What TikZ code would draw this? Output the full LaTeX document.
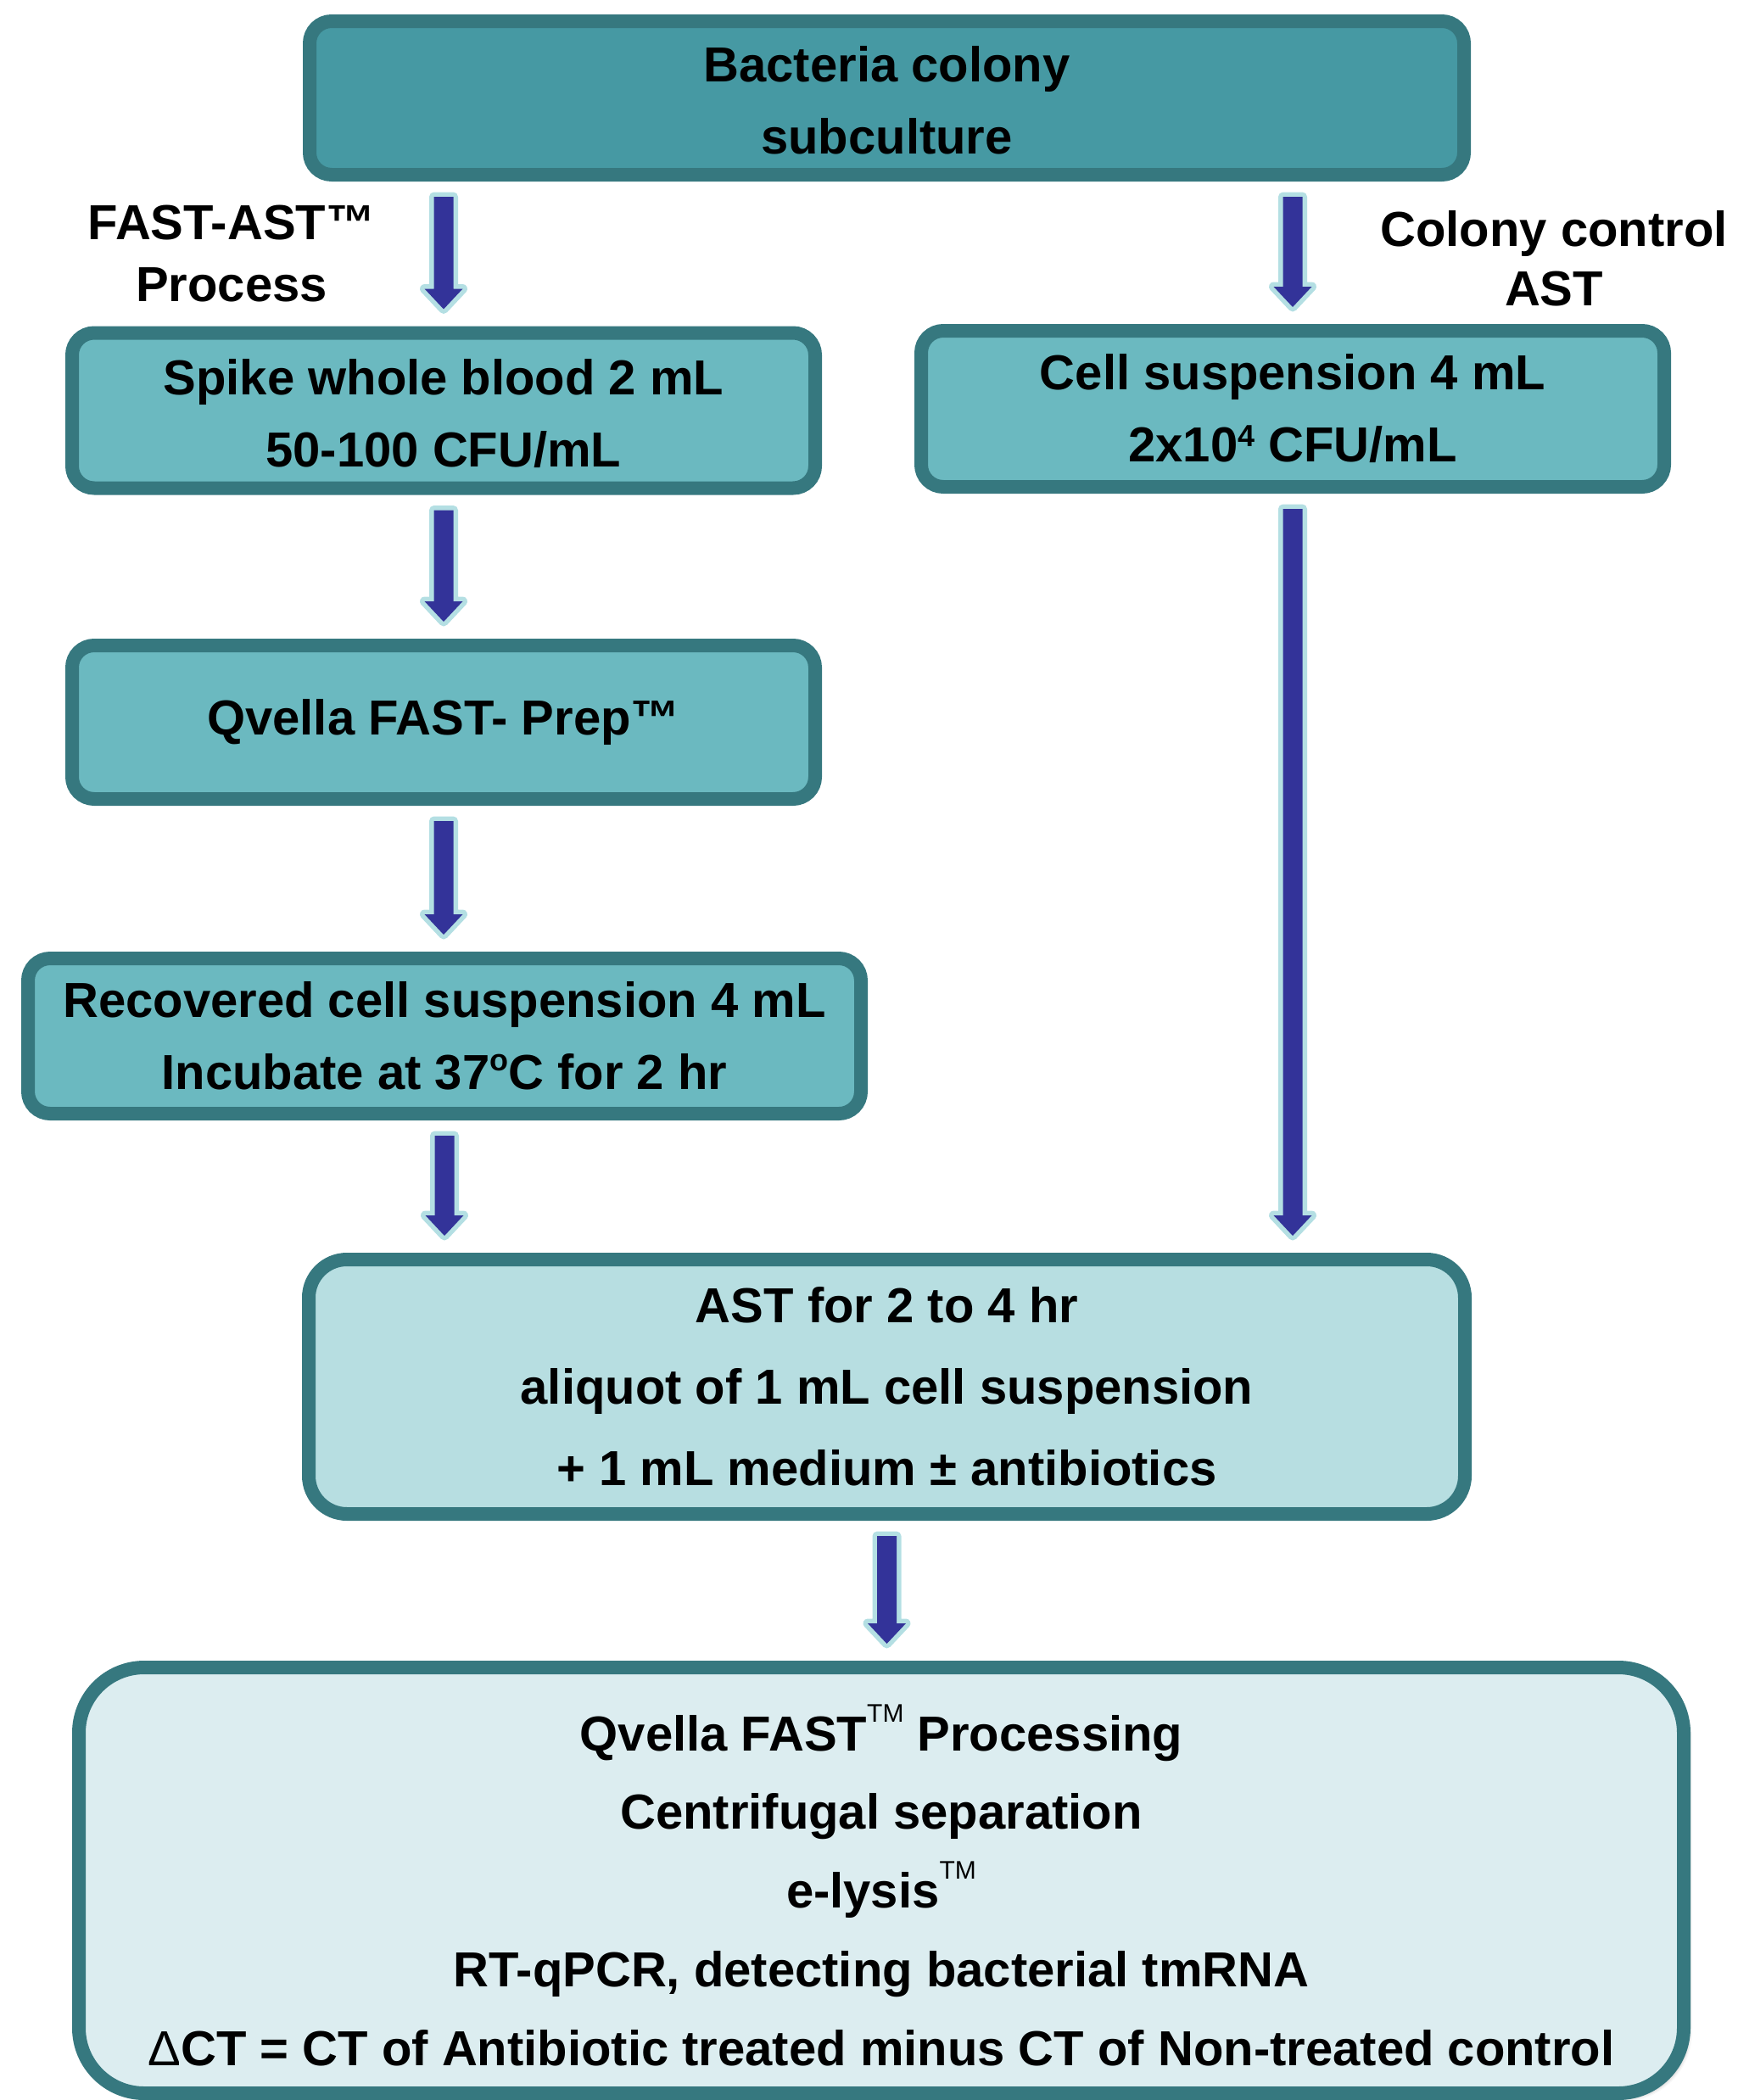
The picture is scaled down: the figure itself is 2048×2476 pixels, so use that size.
\documentclass[tikz,border=0pt]{standalone}
\usepackage{fontspec}
\setmainfont{Liberation Sans}
\usetikzlibrary{calc,shadows.blur}
\definecolor{edge}{HTML}{36787F}
\definecolor{fillA}{HTML}{4699A3}
\definecolor{fillB}{HTML}{6BB9C0}
\definecolor{fillC}{HTML}{B7DEE1}
\definecolor{fillD}{HTML}{DCEDF0}
\definecolor{arrowblue}{HTML}{333399}
\definecolor{arrowedge}{HTML}{B4DFE3}
\newcommand\mysup[2]{\raisebox{#1}{\fontsize{36}{36}\selectfont #2}}
\newcommand\mytm{\raisebox{34pt}{\fontsize{30}{30}\selectfont\mdseries TM}}
\tikzset{
  box/.style={draw=edge, line width=16pt, rounded corners=26pt, inner sep=0pt, outer sep=0pt,
    align=center, text=black, font=\bfseries\fontsize{58}{85}\selectfont},
  blockarrow/.style={draw=arrowedge, line width=11pt, line join=round, postaction={fill=arrowblue}},
  lbl/.style={align=center, inner sep=0pt, text=black},
}
\newcommand\barrow[3]{%
  \draw[blockarrow] let \p1=(#1.south), \p2=(#2.north), \p3=(#3.center) in
    (\x3-11.5pt,\y1-26pt) -- (\x3+11.5pt,\y1-26pt) -- (\x3+11.5pt,\y2+52pt) --
    (\x3+22.5pt,\y2+52pt) -- (\x3,\y2+28pt) -- (\x3-22.5pt,\y2+52pt) --
    (\x3-11.5pt,\y2+52pt) -- cycle;}
\begin{document}
\begin{tikzpicture}[x=1pt,y=1pt]
\useasboundingbox (0,0) rectangle (2048,-2476);

\node[box, fill=fillA, minimum width=1361pt, minimum height=181pt] (top) at (1045.5,-115.5)
  {\rule{0pt}{48pt}Bacteria colony\\subculture};

\node[box, fill=fillB, minimum width=876pt, minimum height=183pt] (spike) at (523,-484)
  {\rule{0pt}{50pt}Spike whole blood 2 mL\\50-100 CFU/mL};

\node[box, fill=fillB, minimum width=876pt, minimum height=184pt] (cell) at (1524,-482)
  {Cell suspension 4 mL\\2x10\mysup{18pt}{4} CFU/mL};

\node[box, fill=fillB, minimum width=876pt, minimum height=181pt] (prep) at (523,-851.5)
  {Qvella FAST- Prep™};

\node[box, fill=fillB, minimum width=982pt, minimum height=183pt] (rec) at (524,-1221.5)
  {Recovered cell suspension 4 mL\\Incubate at 37\mysup{22pt}{o}C for 2 hr};

\node[box, fill=fillC, minimum width=1363pt, minimum height=300pt, rounded corners=45pt,
  font=\bfseries\fontsize{58}{96}\selectfont] (ast) at (1045.5,-1635)
  {AST for 2 to 4 hr\\aliquot of 1 mL cell suspension\\+ 1 mL medium ± antibiotics};

\node[box, fill=fillD, minimum width=1892pt, minimum height=502pt, rounded corners=77pt,
  font=\bfseries\fontsize{58}{92.75}\selectfont,
  blur shadow={shadow xshift=5pt, shadow yshift=-5pt, shadow blur radius=5pt, shadow opacity=35}]
  (final) at (1039,-2217)
  {\rule{0pt}{66pt}Qvella FAST\mytm{} Processing\\Centrifugal separation\\e-lysis\mytm\\RT-qPCR, detecting bacterial tmRNA\\{\mdseries Δ}CT = CT of Antibiotic treated minus CT of Non-treated control};

\node[lbl, font=\bfseries\fontsize{58}{73}\selectfont] (lblfast) at (273,-299) {FAST-AST™\\Process};
\node[lbl, font=\bfseries\fontsize{58}{70}\selectfont] (lblcol) at (1832,-305) {Colony control\\AST};

\barrow{top}{spike}{spike}
\barrow{top}{cell}{cell}
\barrow{spike}{prep}{spike}
\barrow{prep}{rec}{prep}
\barrow{rec}{ast}{rec}
\barrow{cell}{ast}{cell}
\barrow{ast}{final}{ast}
\end{tikzpicture}
\end{document}
